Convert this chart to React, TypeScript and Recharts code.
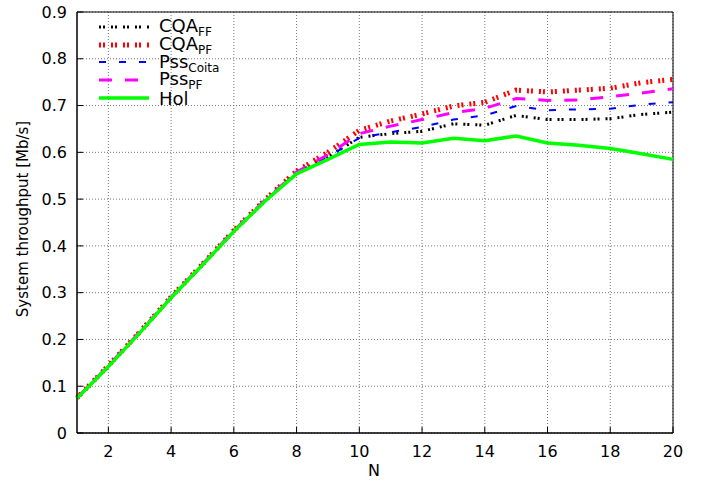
import React from 'react';
import { LineChart, Line, XAxis, YAxis, CartesianGrid, ReferenceArea } from 'recharts';

// values
const nValues = [1, 2, 3, 4, 5, 6, 7, 8, 9, 10, 11, 12, 13, 14, 15, 16, 17, 18, 19, 20];
const cqaFF = [0.075, 0.143, 0.215, 0.29, 0.36, 0.432, 0.497, 0.556, 0.59, 0.632, 0.64, 0.645, 0.661, 0.658, 0.679, 0.67, 0.67, 0.672, 0.681, 0.686];
const cqaPF = [0.075, 0.144, 0.216, 0.291, 0.361, 0.433, 0.499, 0.56, 0.6, 0.647, 0.667, 0.682, 0.699, 0.707, 0.733, 0.729, 0.733, 0.737, 0.749, 0.756];
const pssCoita = [0.075, 0.143, 0.215, 0.29, 0.36, 0.432, 0.497, 0.557, 0.59, 0.631, 0.643, 0.654, 0.67, 0.679, 0.699, 0.69, 0.692, 0.693, 0.702, 0.707];
const pssPF = [0.075, 0.144, 0.216, 0.29, 0.361, 0.433, 0.498, 0.558, 0.595, 0.64, 0.656, 0.67, 0.685, 0.694, 0.715, 0.711, 0.712, 0.719, 0.727, 0.736];
const hol = [0.074, 0.142, 0.214, 0.289, 0.359, 0.431, 0.496, 0.554, 0.585, 0.617, 0.622, 0.62, 0.63, 0.625, 0.635, 0.62, 0.615, 0.608, 0.597, 0.585];

const xTicks = [2, 4, 6, 8, 10, 12, 14, 16, 18, 20];
const yTicks = [0, 0.1, 0.2, 0.3, 0.4, 0.5, 0.6, 0.7, 0.8, 0.9];

const FONT = '"DejaVu Sans", sans-serif';

const data = nValues.map((n, i) => ({
  n,
  cqaFF: cqaFF[i],
  cqaPF: cqaPF[i],
  pssCoita: pssCoita[i],
  pssPF: pssPF[i],
  hol: hol[i],
}));

const series = [
  { key: 'cqaFF', name: 'CQA', sub: 'FF', color: '#000000', width: 3, dash: '2 2 2 6' },
  { key: 'cqaPF', name: 'CQA', sub: 'PF', color: '#ff0000', width: 5, dash: '2 2 2 6' },
  { key: 'pssCoita', name: 'Pss', sub: 'Coita', color: '#0000ff', width: 2, dash: '7 13' },
  { key: 'pssPF', name: 'Pss', sub: 'PF', color: '#ff00ff', width: 3, dash: '13 13' },
  { key: 'hol', name: 'Hol', sub: '', color: '#00ff00', width: 3.5, dash: undefined },
];

const tickStyle = { fill: '#000', fontSize: 16, fontFamily: FONT };

export default function App() {
  return (
    <div style={{ position: 'absolute', left: 0, top: 0, width: 714, height: 483, background: '#fff', fontFamily: FONT }}>
      <LineChart width={714} height={483} data={data} margin={{ top: 12, right: 41, left: 17, bottom: 10 }}>
        <CartesianGrid stroke="#777" strokeDasharray="1 2" horizontalValues={yTicks} verticalValues={xTicks} />
        <ReferenceArea x1={1} x2={20} y1={0} y2={0.9} fill="none" stroke="#000" strokeWidth={1} fillOpacity={0} />
        <XAxis
          dataKey="n"
          type="number"
          domain={[1, 20]}
          ticks={xTicks}
          interval={0}
          tick={tickStyle}
          tickSize={-6}
          tickMargin={19}
          axisLine={{ stroke: '#000' }}
          tickLine={{ stroke: '#000' }}
          height={40}
        />
        <YAxis
          type="number"
          domain={[0, 0.9]}
          ticks={yTicks}
          interval={0}
          tick={tickStyle}
          tickFormatter={(v: number) => (v === 0 ? '0' : v.toFixed(1))}
          tickSize={-6}
          tickMargin={16}
          axisLine={{ stroke: '#000' }}
          tickLine={{ stroke: '#000' }}
          width={60}
        />
        {series.map(s => (
          <Line
            key={s.key}
            dataKey={s.key}
            type="linear"
            stroke={s.color}
            strokeWidth={s.width}
            strokeDasharray={s.dash}
            dot={false}
            isAnimationActive={false}
          />
        ))}
      </LineChart>

      <div style={{ position: 'absolute', left: 368, top: 462, fontSize: 16, lineHeight: '18px', color: '#000' }}>N</div>
      <div
        style={{
          position: 'absolute',
          left: 23,
          top: 219,
          transform: 'translate(-50%, -50%) rotate(-90deg)',
          fontSize: 15,
          whiteSpace: 'nowrap',
          color: '#000',
        }}
      >
        System throughput [Mb/s]
      </div>

      <div style={{ position: 'absolute', left: 97, top: 18 }}>
        {series.map(s => (
          <div key={s.key} style={{ display: 'flex', alignItems: 'center', height: 17.8 }}>
            <svg width={54} height={10}>
              <line x1={2} y1={5} x2={52} y2={5} stroke={s.color} strokeWidth={s.width} strokeDasharray={s.dash} />
            </svg>
            <span style={{ marginLeft: 8, fontSize: 18, lineHeight: '17px', color: '#000', whiteSpace: 'nowrap' }}>
              {s.name}
              {s.sub && <span style={{ fontSize: 12, lineHeight: '10px', verticalAlign: -4 }}>{s.sub}</span>}
            </span>
          </div>
        ))}
      </div>
    </div>
  );
}
